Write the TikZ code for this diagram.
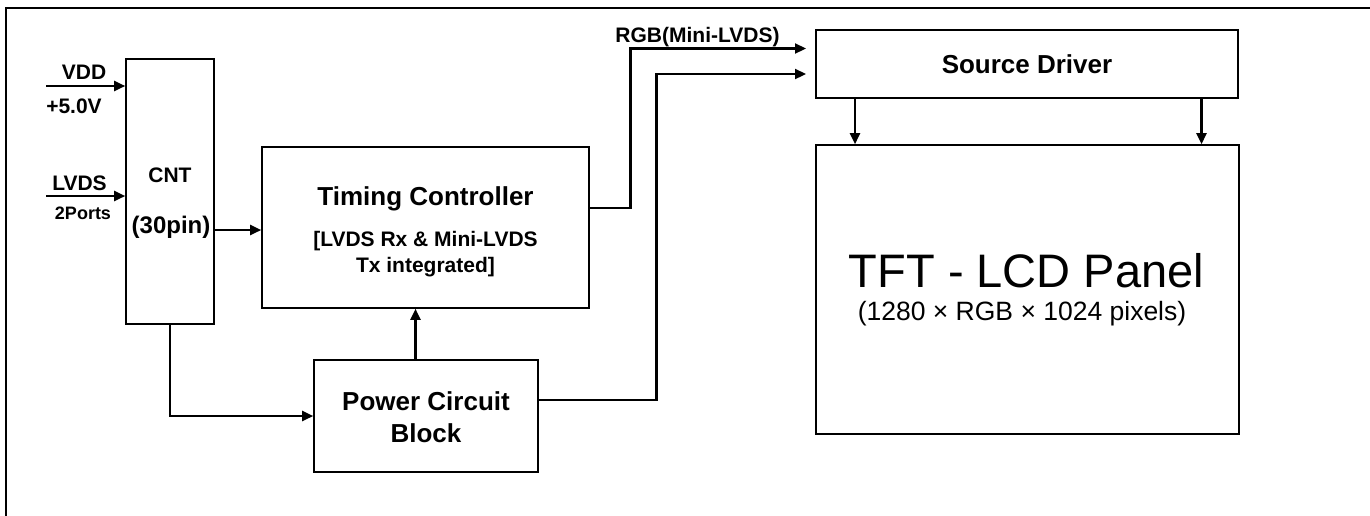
\documentclass[tikz,border=0pt]{standalone}
\usepackage{fontspec}
\setmainfont{Liberation Sans}
\usetikzlibrary{arrows.meta}
\tikzset{
  box/.style={draw=black, line width=1.6pt, inner sep=0pt, fill=white},
  conn/.style={draw=black, line width=2.2pt, -{Triangle[length=11pt,width=10pt]}},
  wire/.style={draw=black, line width=2.2pt},
  lbl/.style={inner sep=0pt, anchor=base, font=\bfseries\fontsize{26}{31}\selectfont},
  small/.style={inner sep=0pt, anchor=base, font=\bfseries\fontsize{21}{26}\selectfont},
  tiny/.style={inner sep=0pt, anchor=base, font=\bfseries\fontsize{18}{22}\selectfont},
}
\begin{document}
\begin{tikzpicture}[x=1pt,y=-1pt]
\useasboundingbox (0,0) rectangle (1370,515);
% outer frame (top and left edges)
\draw[line width=2pt] (1372,8) -- (6,8) -- (6,517);

% boxes
\node[box, minimum width=88pt, minimum height=265pt] (cnt) at (170,191.5) {};
\node[box, minimum width=327pt, minimum height=161pt] (tim) at (425.5,227.5) {};
\node[box, minimum width=422pt, minimum height=68pt] (src) at (1027,64) {};
\node[box, minimum width=423pt, minimum height=289pt] (pnl) at (1027.5,289.5) {};
\node[box, minimum width=224pt, minimum height=112pt] (pwr) at (426,416) {};

% texts
\node[small] (vdd) at (84,79) {VDD};
\node[small] (v5) at (74,113) {+5.0V};
\node[small] (lvds) at (79.5,190) {LVDS};
\node[tiny] (ports) at (83,219) {2Ports};
\node[small] (cntt) at (170,182) {CNT};
\node[lbl, font=\bfseries\fontsize{24}{28}\selectfont] (pin) at (171,233) {(30pin)};
\node[lbl] (timt) at (425.5,205) {Timing Controller};
\node[small] (tim2) at (425.5,246) {[LVDS Rx \& Mini-LVDS};
\node[small] (tim3) at (425.5,272) {Tx integrated]};
\node[lbl] (srct) at (1027,73) {Source Driver};
\node[inner sep=0pt, anchor=base, font=\fontsize{47}{52}\selectfont] (pnlt) at (1026.5,287) {TFT - LCD Panel};
\node[inner sep=0pt, anchor=base, font=\fontsize{26.5}{31}\selectfont] (pnl2) at (1022,320) {(1280 × RGB × 1024 pixels)};
\node[lbl] (pwr1) at (426,410) {Power Circuit};
\node[lbl] (pwr2) at (426,442) {Block};
\node[small] (rgb) at (697.5,42.7) {RGB(Mini-LVDS)};

% free ends
\coordinate (vddin) at (46,86);
\coordinate (lvdsin) at (46,196);
\coordinate (rgbend) at (806,48.5);
\coordinate (pwrend) at (806,74);

% connectors
\draw[conn] (vddin) -- (vddin -| cnt.west);
\draw[conn] (lvdsin) -- (lvdsin -| cnt.west);
\draw[conn] (cnt.east |- 0,230) -- (tim.west |- 0,230);
\draw[conn] (cnt.south) |- (pwr.west |- 0,416);
\draw[conn] (pwr.north -| 415.5,0) -- (tim.south -| 415.5,0);
\draw[conn] (tim.east |- 0,208) -- (630.5,208) |- (rgbend);
\draw[conn] (pwr.east |- 0,400) -- (656.5,400) |- (pwrend);
\draw[conn] (src.south -| 855,0) -- (pnl.north -| 855,0);
\draw[conn] (src.south -| 1201.5,0) -- (pnl.north -| 1201.5,0);
\end{tikzpicture}
\end{document}
